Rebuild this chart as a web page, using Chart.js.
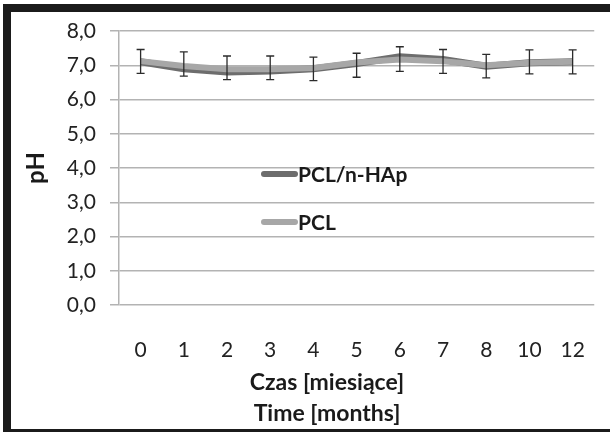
<!DOCTYPE html>
<html lang="pl">
<head>
    <meta charset="UTF-8">
    <title>pH - PCL/n-HAp i PCL</title>
    <script src="https://cdn.jsdelivr.net/npm/chart.js"></script>
    <style>
        html, body { margin: 0; padding: 0; background: #fff; }
        .wrap { position: relative; width: 610px; height: 432px; overflow: hidden; }
        canvas { position: absolute; left: 0; top: 0; }
        /* czarna ramka z oryginalnego rysunku */
        .bar { position: absolute; background: #1b1b1b; pointer-events: none; }
        .bar.top { left: 3px; top: 4px; width: 607px; height: 8px; }
        .bar.left { left: 3px; top: 4px; width: 8px; height: 428px; }
        .bar.bottom { left: 3px; top: 429px; width: 607px; height: 3px; }
    </style>
</head>
<body>
<div class="wrap">
    <canvas id="phChart" width="610" height="432"></canvas>
    <div class="bar top"></div>
    <div class="bar left"></div>
    <div class="bar bottom"></div>
</div>
<script>
    // dane
    const months = ['0', '1', '2', '3', '4', '5', '6', '7', '8', '10', '12'];
    const phComposite = [7.10, 6.90, 6.80, 6.83, 6.90, 7.05, 7.25, 7.17, 6.97, 7.07, 7.10]; // PCL/n-HAp
    const phPcl = [7.12, 6.98, 6.88, 6.88, 6.92, 7.08, 7.17, 7.12, 7.00, 7.07, 7.10];       // PCL
    const errUpper = [7.46, 7.39, 7.27, 7.27, 7.24, 7.35, 7.54, 7.46, 7.32, 7.45, 7.45];
    const errLower = [6.76, 6.68, 6.58, 6.58, 6.55, 6.65, 6.82, 6.76, 6.63, 6.75, 6.75];
    const yTickLabels = ['0,0', '1,0', '2,0', '3,0', '4,0', '5,0', '6,0', '7,0', '8,0'];
    const xTitleLines = ['Czas [miesiące]', 'Time [months]'];

    const FONT = 'Lato, "Open Sans", sans-serif';

    // słupki błędów
    const errorBars = {
        id: 'errorBars',
        afterDatasetsDraw(chart) {
            const ctx = chart.ctx;
            const x = chart.scales.x, y = chart.scales.y;
            ctx.save();
            ctx.strokeStyle = '#2b2b2b';
            ctx.lineWidth = 1.3;
            months.forEach((m, i) => {
                const px = x.getPixelForValue(i);
                const top = y.getPixelForValue(errUpper[i]);
                const bot = y.getPixelForValue(errLower[i]);
                ctx.beginPath();
                ctx.moveTo(px, top); ctx.lineTo(px, bot);
                ctx.moveTo(px - 4, top); ctx.lineTo(px + 4, top);
                ctx.moveTo(px - 4, bot); ctx.lineTo(px + 4, bot);
                ctx.stroke();
            });
            ctx.restore();
        }
    };

    // legenda w polu wykresu + tytuł osi X
    const extras = {
        id: 'extras',
        afterDraw(chart) {
            const ctx = chart.ctx;
            ctx.save();
            ctx.textBaseline = 'middle';
            const rows = [174, 222];
            chart.data.datasets.forEach((ds, i) => {
                ctx.strokeStyle = ds.borderColor;
                ctx.lineWidth = 6;
                ctx.lineCap = 'round';
                ctx.beginPath();
                ctx.moveTo(264, rows[i]); ctx.lineTo(295, rows[i]);
                ctx.stroke();
                ctx.fillStyle = '#1a1a1a';
                ctx.font = 'bold 21px ' + FONT;
                ctx.textAlign = 'left';
                ctx.fillText(ds.label, 298, rows[i] + 1);
            });
            ctx.font = 'bold 23px ' + FONT;
            ctx.textAlign = 'center';
            ctx.fillText(xTitleLines[0], 327, 383);
            ctx.fillText(xTitleLines[1], 327, 414);
            ctx.restore();
        }
    };

    new Chart(document.getElementById('phChart'), {
        type: 'line',
        data: {
            labels: months,
            datasets: [{
                label: 'PCL/n-HAp',
                data: phComposite,
                borderColor: '#6d6d6d',
                borderWidth: 7,
                pointRadius: 0,
                order: 1
            }, {
                label: 'PCL',
                data: phPcl,
                borderColor: '#a7a7a7',
                borderWidth: 6,
                pointRadius: 0,
                order: 0
            }]
        },
        options: {
            responsive: false,
            animation: false,
            layout: { padding: { top: 31, right: 4, left: 0, bottom: 0 } },
            plugins: { legend: { display: false }, tooltip: { enabled: false } },
            scales: {
                x: {
                    offset: true,
                    grid: { display: false },
                    border: { display: false },
                    ticks: { color: '#222', padding: 25, font: { family: FONT, size: 21 } },
                    afterFit(scale) { scale.height = 127; }
                },
                y: {
                    min: 0, max: 8,
                    ticks: {
                        stepSize: 1, color: '#222', padding: 14,
                        font: { family: FONT, size: 21 },
                        callback: v => yTickLabels[v]
                    },
                    grid: { color: '#b3b3b3', lineWidth: 1.5, tickLength: 9 },
                    border: { color: '#b3b3b3', width: 1.5 },
                    title: {
                        display: true, text: 'pH', color: '#1a1a1a',
                        font: { family: FONT, size: 24, weight: 'bold' },
                        padding: { top: 22, bottom: 0 }
                    },
                    afterFit(scale) { scale.width = 119; }
                }
            }
        },
        plugins: [errorBars, extras]
    });
</script>
</body>
</html>
